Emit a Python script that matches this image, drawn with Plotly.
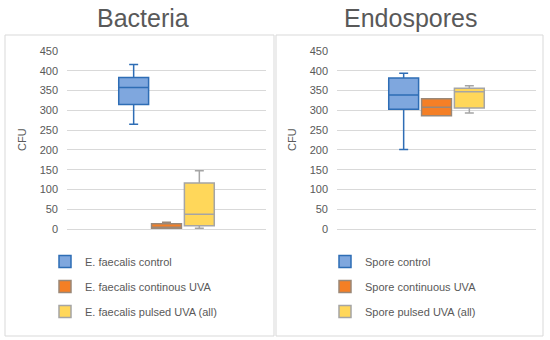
import plotly.graph_objects as go

# ---------------- data ----------------
bact_names = ["E. faecalis control", "E. faecalis continous UVA", "E. faecalis pulsed UVA (all)"]
bact_low = [265, 1, 2]
bact_q1 = [315, 2, 8]
bact_med = [358, 3, 37]
bact_q3 = [383, 13, 116]
bact_high = [416, 17, 147]

spore_names = ["Spore control", "Spore continuous UVA", "Spore pulsed UVA (all)"]
spore_low = [201, 286, 293]
spore_q1 = [303, 286, 306]
spore_med = [339, 308, 347]
spore_q3 = [382, 329, 356]
spore_high = [394, 329, 362]

titles = ["Bacteria", "Endospores"]
y_ticks = [0, 50, 100, 150, 200, 250, 300, 350, 400, 450]

fills = ["#7FA7DE", "#F57F25", "#FFD75A"]
lines = ["#2E6DB5", "#9A8878", "#A5A5A5"]

W, H = 550, 340
def px(x): return x / W
def py(y): return 1 - y / H

fig = go.Figure()

groups = [
    (bact_names, bact_low, bact_q1, bact_med, bact_q3, bact_high, "x", "y", "legend"),
    (spore_names, spore_low, spore_q1, spore_med, spore_q3, spore_high, "x2", "y2", "legend2"),
]
for gi, (names, lo, q1, med, q3, hi, xa, ya, lg) in enumerate(groups):
    for i in range(3):
        fig.add_trace(go.Box(
            x=["c"], q1=[q1[i]], median=[med[i]], q3=[q3[i]],
            lowerfence=[lo[i]], upperfence=[hi[i]],
            name=names[i], fillcolor=fills[i],
            line=dict(color=lines[i], width=1.5),
            whiskerwidth=0.3, boxpoints=False,
            xaxis=xa, yaxis=ya, legend=lg,
            legendgroup=f"g{gi}_{i}", offsetgroup=str(i),
            hoverinfo="skip",
        ))

axis_font = dict(family="Liberation Sans, Arial, sans-serif", size=11, color="#595959")
ydom = [py(229), py(51)]
yax = dict(range=[0, 450], tickvals=y_ticks, showgrid=True, gridcolor="#D9D9D9",
           gridwidth=1, zeroline=False, showline=False, tickfont=axis_font,
           ticks="", ticklabelstandoff=8, automargin=False, domain=ydom, fixedrange=True)
xax = dict(showticklabels=False, showgrid=False, zeroline=False, showline=True,
           linecolor="#D9D9D9", linewidth=1, ticks="", automargin=False, fixedrange=True)

fig.update_layout(
    width=W, height=H,
    margin=dict(l=0, r=0, t=0, b=0),
    paper_bgcolor="white", plot_bgcolor="white",
    boxmode="group", boxgap=0.505, boxgroupgap=0.09,
    xaxis=dict(xax, domain=[px(67), px(266)], anchor="y"),
    yaxis=dict(yax, anchor="x"),
    xaxis2=dict(xax, domain=[px(337), px(536)], anchor="y2"),
    yaxis2=dict(yax, anchor="x2"),
    legend=dict(x=px(45), y=py(247), xanchor="left", yanchor="top",
                font=axis_font, tracegroupgap=6, bgcolor="rgba(0,0,0,0)"),
    legend2=dict(x=px(325), y=py(247), xanchor="left", yanchor="top",
                 font=axis_font, tracegroupgap=6, bgcolor="rgba(0,0,0,0)"),
    showlegend=True,
)

# panel borders
for x0, x1 in [(5, 274), (276, 543)]:
    fig.add_shape(type="rect", xref="paper", yref="paper",
                  x0=px(x0), x1=px(x1), y0=py(336), y1=py(35),
                  line=dict(color="#D9D9D9", width=1), fillcolor="rgba(0,0,0,0)", layer="below")

# titles
for t, xc in zip(titles, [143, 410]):
    fig.add_annotation(text=t, x=px(xc), y=py(18), xref="paper", yref="paper",
                       showarrow=False, xanchor="center", yanchor="middle",
                       font=dict(family="Liberation Sans, Arial, sans-serif", size=25, color="#595959"))

# y-axis titles
for xc in [22, 292]:
    fig.add_annotation(text="CFU", x=px(xc), y=py(140), xref="paper", yref="paper",
                       showarrow=False, textangle=-90, xanchor="center", yanchor="middle",
                       font=axis_font)

fig.write_html("out.html", config={"displayModeBar": False},
               post_script="document.body.style.margin='0';")
